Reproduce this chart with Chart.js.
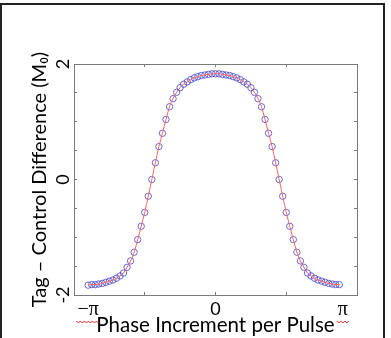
<!DOCTYPE html>
<html>
<head>
<meta charset="utf-8">
<script src="https://cdn.jsdelivr.net/npm/chart.js@4"></script>
<style>
    html, body { margin: 0; padding: 0; background: #ffffff; }
    #wrap { position: relative; width: 391px; height: 338px; }
    #frame {
        position: absolute; left: 0; top: 3px; width: 381px; height: 335px;
        border-left: 2px solid #222; border-top: 2px solid #222; border-right: 2px solid #222;
        pointer-events: none;
    }
</style>
</head>
<body>
<div id="wrap">
    <canvas id="phaseChart" width="391" height="338"></canvas>
    <div id="frame"></div>
</div>
<script>
// Phase increment per pulse (degrees), 5 degree steps
const phaseDeg = [
    -180, -175, -170, -165, -160, -155, -150, -145, -140, -135, -130, -125,
    -120, -115, -110, -105, -100, -95, -90, -85, -80, -75, -70, -65,
    -60, -55, -50, -45, -40, -35, -30, -25, -20, -15, -10, -5,
    0, 5, 10, 15, 20, 25, 30, 35, 40, 45, 50, 55,
    60, 65, 70, 75, 80, 85, 90, 95, 100, 105, 110, 115,
    120, 125, 130, 135, 140, 145, 150, 155, 160, 165, 170, 175
];

// Tag - control difference (units of M0)
const tagControl = [
    -1.83, -1.82, -1.82, -1.81, -1.80, -1.78, -1.76, -1.74, -1.71, -1.67, -1.62, -1.52,
    -1.41, -1.26, -1.04, -0.81, -0.57, -0.29, 0.00, 0.29, 0.57, 0.80, 1.04, 1.26,
    1.40, 1.51, 1.59, 1.65, 1.69, 1.73, 1.76, 1.78, 1.80, 1.81, 1.82, 1.83,
    1.83, 1.83, 1.82, 1.81, 1.80, 1.78, 1.76, 1.73, 1.69, 1.65, 1.59, 1.51,
    1.40, 1.26, 1.04, 0.80, 0.57, 0.29, 0.00, -0.29, -0.57, -0.81, -1.04, -1.26,
    -1.41, -1.52, -1.62, -1.67, -1.71, -1.74, -1.76, -1.78, -1.80, -1.81, -1.82, -1.82
];

// Axis ticks (marks every 100 deg / 0.5, labels only on a few)
const xTickMarks = [-200, -100, 0, 100, 200];
const xLabelValues = [-180, 0, 180];
const xLabelTexts = ['\u2212\u03c0', '0', '\u03c0'];
const yLabelValues = [-2, 0, 2];
const yLabelTexts = ['-2', '0', '2'];

const axisGrey = '#7a7a7a';
const sansFont = 'Lato, "Open Sans", sans-serif';
const serifFont = '"Liberation Serif", "DejaVu Serif", serif';

const points = phaseDeg.map((p, i) => ({ x: p, y: tagControl[i] }));

// inward tick marks, no grid on the plot itself
function boxGrid(colorFn) {
    return {
        drawOnChartArea: false,
        drawTicks: true,
        tickLength: -3,
        tickWidth: 1,
        tickColor: colorFn || axisGrey
    };
}

const boxBorder = { display: true, color: axisGrey, width: 1 };

// red spell-check squiggles under the pi labels (as in the slide screenshot)
const squigglePlugin = {
    id: 'squiggle',
    afterDraw(chart) {
        const xs = chart.scales.x;
        const ctx = chart.ctx;
        ctx.save();
        ctx.strokeStyle = 'rgb(225, 40, 40)';
        ctx.lineWidth = 1;
        ctx.font = '20px ' + serifFont;
        [-180, 180].forEach(v => {
            const label = xLabelTexts[xLabelValues.indexOf(v)];
            const w = ctx.measureText(label).width + 2;
            const cx = xs.getPixelForValue(v);
            const y = xs.top + 26;
            ctx.beginPath();
            for (let px = 0; px <= w; px += 2) {
                const yy = y + ((px / 2) % 2 === 0 ? 0 : 2);
                if (px === 0) ctx.moveTo(cx - w / 2 + px, yy);
                else ctx.lineTo(cx - w / 2 + px, yy);
            }
            ctx.stroke();
        });
        ctx.restore();
    }
};

new Chart(document.getElementById('phaseChart').getContext('2d'), {
    type: 'scatter',
    data: {
        datasets: [
            {
                data: points,
                showLine: true,
                borderColor: 'rgb(250, 100, 100)',
                borderWidth: 1,
                pointRadius: 0,
                cubicInterpolationMode: 'monotone'
            },
            {
                data: points,
                showLine: false,
                pointRadius: 3.2,
                pointBorderWidth: 1,
                pointBorderColor: 'rgba(60, 60, 200, 0.75)',
                pointBackgroundColor: 'rgba(0, 0, 0, 0)'
            }
        ]
    },
    plugins: [squigglePlugin],
    options: {
        responsive: false,
        animation: false,
        layout: { padding: 0 },
        plugins: { legend: { display: false }, tooltip: { enabled: false } },
        scales: {
            x: {
                type: 'linear',
                position: 'bottom',
                min: -200,
                max: 200,
                afterBuildTicks: (scale) => {
                    const vals = xTickMarks.concat([-180, 180]).sort((a, b) => a - b);
                    scale.ticks = vals.map(v => ({ value: v }));
                },
                afterFit: (scale) => { scale.height = 43; },
                grid: boxGrid((ctx) => (ctx.tick && xTickMarks.includes(ctx.tick.value)) ? axisGrey : 'rgba(0,0,0,0)'),
                border: boxBorder,
                ticks: {
                    autoSkip: false,
                    maxRotation: 0,
                    padding: 6,
                    color: '#000',
                    font: (ctx) => ({
                        family: (ctx.tick && ctx.tick.value === 0) ? sansFont : serifFont,
                        size: (ctx.tick && ctx.tick.value === 0) ? 18 : 20
                    }),
                    callback: (value) => {
                        const idx = xLabelValues.indexOf(value);
                        return idx >= 0 ? xLabelTexts[idx] : '';
                    }
                },
                title: {
                    display: true,
                    text: 'Phase Increment per Pulse',
                    color: '#000',
                    font: { family: sansFont, size: 20.5 },
                    padding: { top: 0, bottom: 0 }
                }
            },
            x2: {
                type: 'linear',
                position: 'top',
                min: -200,
                max: 200,
                afterBuildTicks: (scale) => { scale.ticks = xTickMarks.map(v => ({ value: v })); },
                afterFit: (scale) => { scale.height = 64; },
                grid: boxGrid(),
                border: boxBorder,
                ticks: { display: true, callback: () => '' }
            },
            y: {
                type: 'linear',
                position: 'left',
                min: -2,
                max: 2,
                afterFit: (scale) => { scale.width = 74; },
                grid: boxGrid(),
                border: boxBorder,
                ticks: {
                    stepSize: 0.5,
                    minRotation: 90,
                    maxRotation: 90,
                    crossAlign: 'center',
                    padding: 5,
                    color: '#000',
                    font: { family: sansFont, size: 18 },
                    callback: (value) => {
                        const idx = yLabelValues.indexOf(value);
                        return idx >= 0 ? yLabelTexts[idx] : '';
                    }
                },
                title: {
                    display: true,
                    text: 'Tag \u2013 Control Difference (M\u2080)',
                    color: '#000',
                    font: { family: sansFont, size: 20 },
                    padding: { top: 28, bottom: 0 }
                }
            },
            y2: {
                type: 'linear',
                position: 'right',
                min: -2,
                max: 2,
                afterFit: (scale) => { scale.width = 34; },
                grid: boxGrid(),
                border: boxBorder,
                ticks: { stepSize: 0.5, callback: () => '' }
            }
        }
    }
});
</script>
</body>
</html>
